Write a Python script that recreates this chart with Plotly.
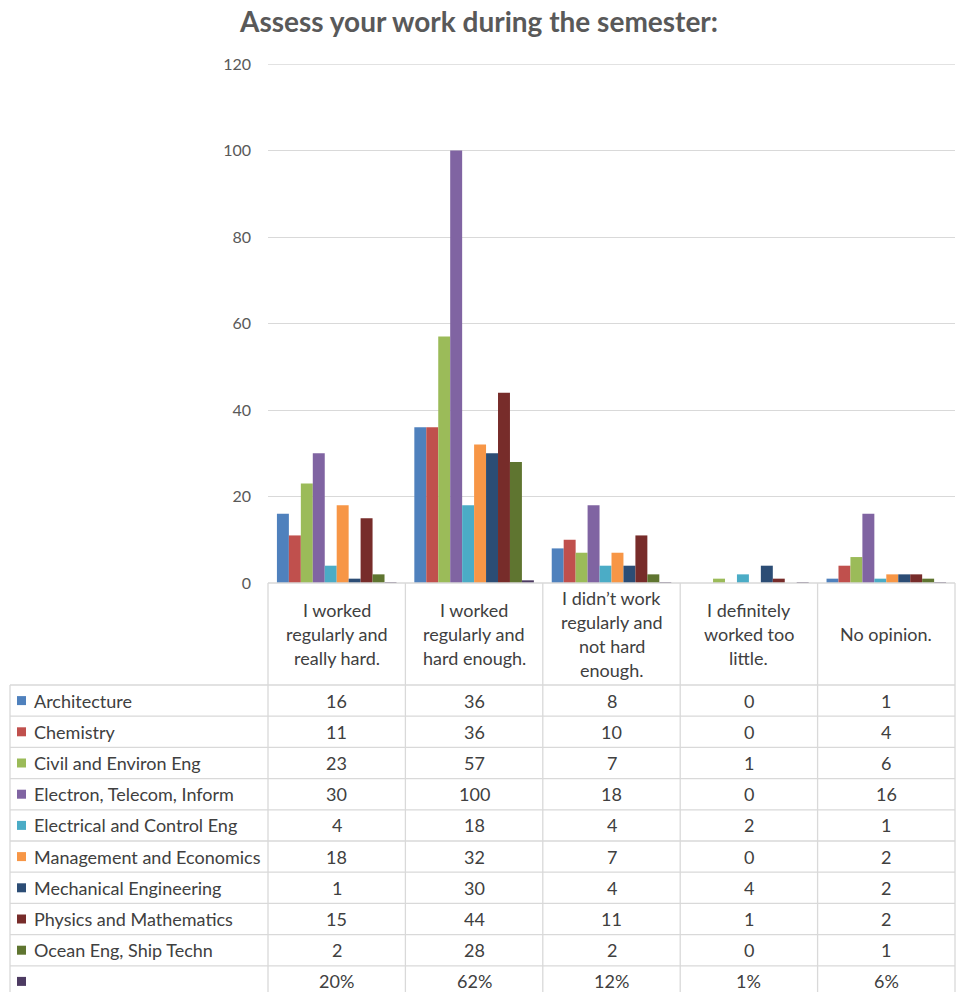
import plotly.graph_objects as go

# --- data -----------------------------------------------------------------
categories = [
    "I worked regularly and really hard.",
    "I worked regularly and hard enough.",
    "I didn\u2019t work regularly and not hard enough.",
    "I definitely worked too little.",
    "No opinion.",
]
category_lines = [
    ["I worked", "regularly and", "really hard."],
    ["I worked", "regularly and", "hard enough."],
    ["I didn\u2019t work", "regularly and", "not hard", "enough."],
    ["I definitely", "worked too", "little."],
    ["No opinion."],
]
series_names = [
    "Architecture",
    "Chemistry",
    "Civil and Environ Eng",
    "Electron, Telecom, Inform",
    "Electrical and Control Eng",
    "Management and Economics",
    "Mechanical Engineering",
    "Physics and Mathematics",
    "Ocean Eng, Ship Techn",
]
architecture = [16, 36, 8, 0, 1]
chemistry = [11, 36, 10, 0, 4]
civil = [23, 57, 7, 1, 6]
electron = [30, 100, 18, 0, 16]
electrical = [4, 18, 4, 2, 1]
management = [18, 32, 7, 0, 2]
mechanical = [1, 30, 4, 4, 2]
physics = [15, 44, 11, 1, 2]
ocean = [2, 28, 2, 0, 1]
share_pct = [20, 62, 12, 1, 6]  # overall share of answers, in percent
y_ticks = [0, 20, 40, 60, 80, 100, 120]

series_values = [architecture, chemistry, civil, electron, electrical,
                 management, mechanical, physics, ocean]
colors = ["#4F81BD", "#C0504D", "#9BBB59", "#8064A2", "#4BACC6",
          "#F79646", "#2C4D75", "#772C2A", "#5F7530"]
share_color = "#4D3B62"

# --- page geometry (pixels) ----------------------------------------------
W, H = 958, 992
PLOT_L, PLOT_R = 268, 955
PLOT_T, PLOT_B = 64, 583
TABLE_L = 10
HEADER_B = 685
ROW_H = 31.2
GRID = "#D9D9D9"
TEXT = "#404040"
FONT = "Lato"
FS = 18


def px(x):
    return x / W


def py(y):
    return 1 - y / H


fig = go.Figure()
for name, vals, col in zip(series_names, series_values, colors):
    fig.add_trace(go.Bar(x=categories, y=vals, name=name, marker_color=col,
                         marker_line_width=0))
fig.add_trace(go.Bar(x=categories, y=[p / 100 for p in share_pct], name="",
                     marker_color=share_color, marker_line_width=0))

shapes = []
annotations = []

# top gridline (the axis skips the one at the very edge of the range)
shapes.append(dict(type="line", xref="paper", yref="y",
                   x0=px(PLOT_L), x1=px(PLOT_R), y0=y_ticks[-1], y1=y_ticks[-1],
                   line=dict(color=GRID, width=1.3), layer="below"))

# table frame: horizontal rules
n_rows = len(series_names) + 1
shapes.append(dict(type="line", xref="paper", yref="paper",
                   x0=px(PLOT_L), x1=px(PLOT_R), y0=py(PLOT_B), y1=py(PLOT_B),
                   line=dict(color=GRID, width=1.3)))
for i in range(n_rows):
    y = HEADER_B + i * ROW_H
    shapes.append(dict(type="line", xref="paper", yref="paper",
                       x0=px(TABLE_L), x1=px(PLOT_R), y0=py(y), y1=py(y),
                       line=dict(color=GRID, width=1.3)))
# vertical rules
col_edges = [PLOT_L + k * (PLOT_R - PLOT_L) / len(categories)
             for k in range(len(categories) + 1)]
for xe in col_edges:
    shapes.append(dict(type="line", xref="paper", yref="paper",
                       x0=px(xe), x1=px(xe), y0=py(PLOT_B), y1=0,
                       line=dict(color=GRID, width=1.3)))
shapes.append(dict(type="line", xref="paper", yref="paper",
                   x0=px(TABLE_L), x1=px(TABLE_L), y0=py(HEADER_B), y1=0,
                   line=dict(color=GRID, width=1.3)))

# category labels in the header row
line_h = 24
for cat, lines in zip(categories, category_lines):
    center = (PLOT_B + HEADER_B) / 2
    top = center - line_h * (len(lines) - 1) / 2
    for j, txt in enumerate(lines):
        annotations.append(dict(x=cat, xref="x", y=py(top + j * line_h),
                                yref="paper", text=txt, showarrow=False,
                                xanchor="center", yanchor="middle",
                                font=dict(family=FONT, size=FS, color=TEXT)))

# data rows
row_labels = series_names + [""]
row_colors = colors + [share_color]
row_values = [[str(v) for v in vals] for vals in series_values]
row_values.append([f"{p}%" for p in share_pct])
for i, (lab, col, vals) in enumerate(zip(row_labels, row_colors, row_values)):
    yc = HEADER_B + (i + 0.5) * ROW_H
    shapes.append(dict(type="rect", xref="paper", yref="paper",
                       x0=px(17), x1=px(26), y0=py(yc - 4.5), y1=py(yc + 4.5),
                       fillcolor=col, line=dict(width=0)))
    if lab:
        annotations.append(dict(x=px(32), xref="paper", y=py(yc), yref="paper",
                                text=lab, showarrow=False, xanchor="left",
                                yanchor="middle",
                                font=dict(family=FONT, size=FS, color=TEXT)))
    for cat, v in zip(categories, vals):
        annotations.append(dict(x=cat, xref="x", y=py(yc), yref="paper",
                                text=v, showarrow=False, xanchor="center",
                                yanchor="middle",
                                font=dict(family=FONT, size=FS, color=TEXT)))

fig.update_layout(
    width=W, height=H,
    margin=dict(l=0, r=0, t=0, b=0, autoexpand=False),
    paper_bgcolor="white", plot_bgcolor="white",
    barmode="group", bargap=0.13, bargroupgap=0,
    showlegend=False,
    title=dict(text="<b>Assess your work during the semester:</b>",
               x=0.5, xanchor="center", y=py(22), yanchor="middle",
               font=dict(family=FONT, size=28, color="#595959")),
    xaxis=dict(domain=[px(PLOT_L), px(PLOT_R)], showticklabels=False,
               showgrid=False, showline=False, zeroline=False, ticks=""),
    yaxis=dict(domain=[py(PLOT_B), py(PLOT_T)], range=[0, 120],
               tickvals=y_ticks,
               showgrid=True, gridcolor=GRID, gridwidth=1.3,
               zeroline=False, showline=False, ticks="",
               ticklabelstandoff=16,
               tickfont=dict(family=FONT, size=16, color="#595959")),
    shapes=shapes,
    annotations=annotations,
)

fig.write_html("out.html",
               post_script="document.body.style.margin='0';"
                           "document.body.style.overflow='hidden';")
